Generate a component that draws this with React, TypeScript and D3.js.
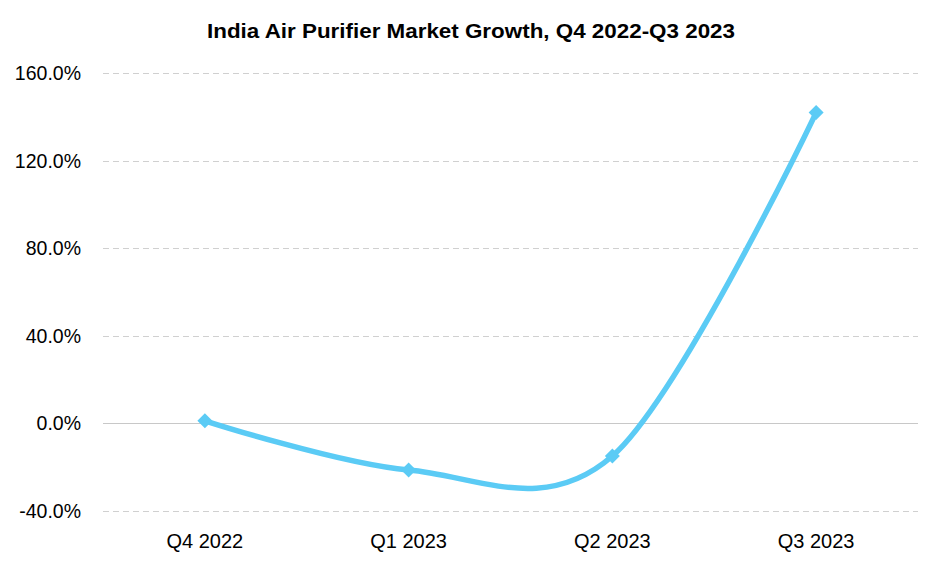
import React from "react";
import * as d3 from "d3";

const categories = ["Q4 2022", "Q1 2023", "Q2 2023", "Q3 2023"];
const growth = [1.0, -21.5, -15.1, 141.9];
const yTicks = [-40, 0, 40, 80, 120, 160];
const title = "India Air Purifier Market Growth, Q4 2022-Q3 2023";

const W = 940;
const H = 567;
const FONT = "'Liberation Sans', Arial, sans-serif";
const LINE = "#5BCBF5";

export default function App() {
  const x = d3.scalePoint<string>().domain(categories).range([103, 918]).padding(0.5);
  const y = d3.scaleLinear().domain([-40, 160]).range([510.5, 73]);
  const line = d3
    .line<number>()
    .x((_, i) => x(categories[i]) as number)
    .y((d) => y(d))
    .curve(d3.curveCardinal.tension(0));
  const path = line(growth) || "";
  const ms = 7.5;
  return (
    <svg width={W} height={H} style={{ position: "absolute", left: 0, top: 0, background: "#fff" }}>
      <rect x={0} y={0} width={W} height={H} fill="#fff" />
      <text
        x={471}
        y={38}
        textAnchor="middle"
        fontFamily={FONT}
        fontWeight="bold"
        fontSize={21}
        textLength={528}
        lengthAdjust="spacingAndGlyphs"
        fill="#000"
      >
        {title}
      </text>
      {yTicks.map((t) => (
        <g key={t}>
          <line
            x1={103}
            x2={918}
            y1={Math.round(y(t)) + 0.5}
            y2={Math.round(y(t)) + 0.5}
            stroke={t === 0 ? "#c8c8c8" : "#d0d0d0"}
            strokeWidth={1}
            strokeDasharray={t === 0 ? undefined : "6,4"}
          />
          <text x={81} y={y(t) + 7} textAnchor="end" fontFamily={FONT} fontSize={19.5} fill="#000">
            {t.toFixed(1) + "%"}
          </text>
        </g>
      ))}
      {categories.map((c) => (
        <text key={c} x={x(c)} y={548} textAnchor="middle" fontFamily={FONT} fontSize={20} fill="#000">
          {c}
        </text>
      ))}
      <path d={path} fill="none" stroke={LINE} strokeWidth={5.5} strokeLinecap="round" />
      {growth.map((v, i) => {
        const cx = x(categories[i]) as number;
        const cy = y(v);
        return (
          <path
            key={i}
            d={`M${cx},${cy - ms}L${cx + ms},${cy}L${cx},${cy + ms}L${cx - ms},${cy}Z`}
            fill={LINE}
          />
        );
      })}
    </svg>
  );
}
